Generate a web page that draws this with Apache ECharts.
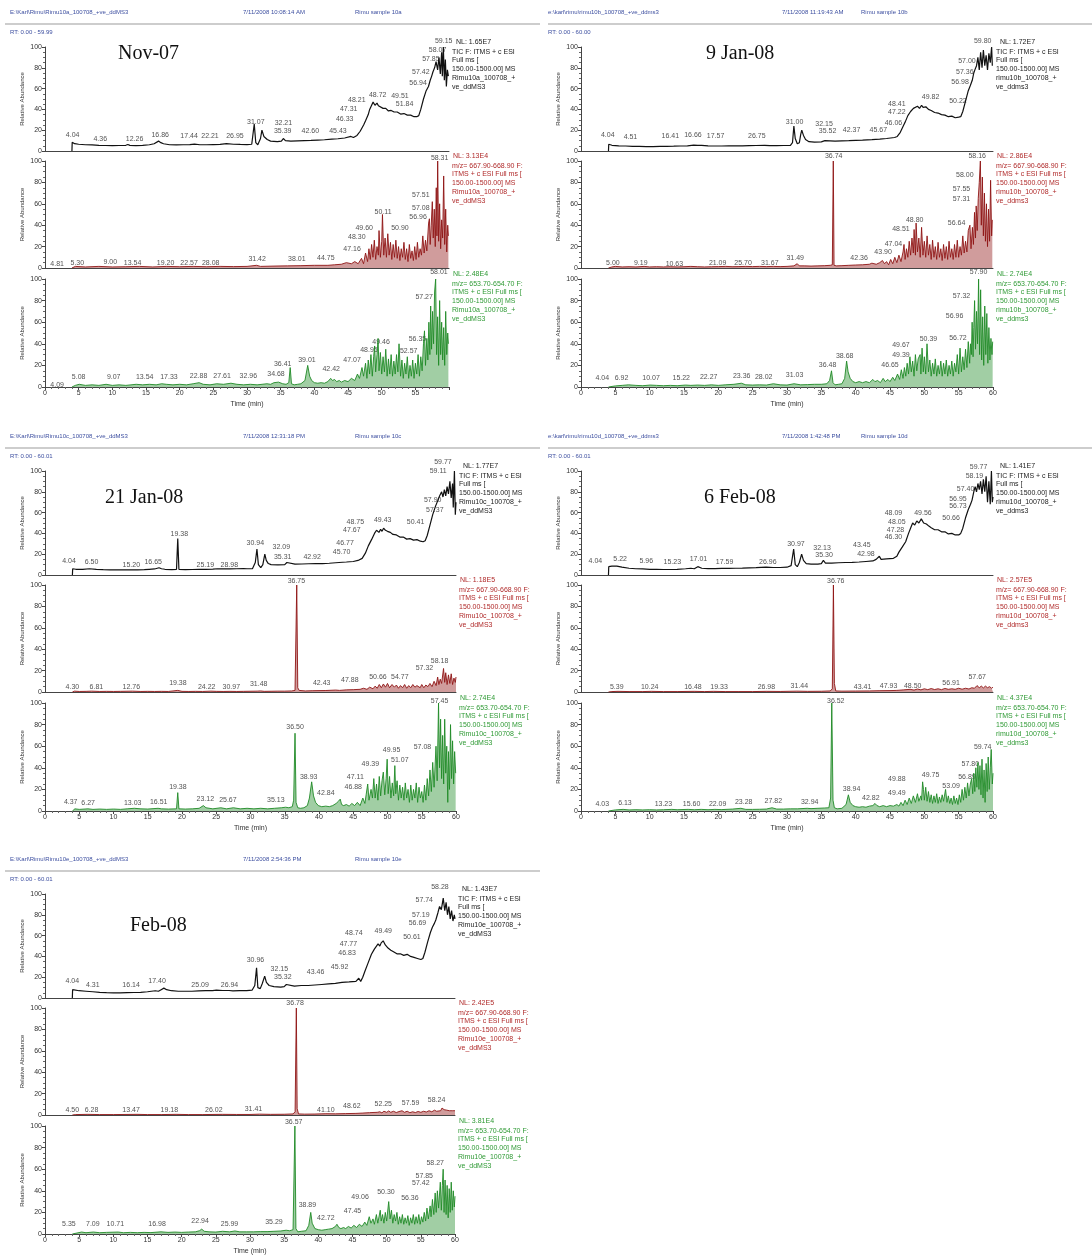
<!DOCTYPE html>
<html><head><meta charset="utf-8">
<script src="https://cdn.jsdelivr.net/npm/echarts@6/dist/echarts.min.js"></script>
<style>html,body{margin:0;padding:0;background:#fff}#c{width:1092px;height:1258px}</style>
</head><body><div id="c"></div>
<script>
// ---------- DATA: traces [time(min), relative abundance] ----------
const nov07Tic=[[4.0,0],[4.04,8.5],[4.4,7],[5,6.5],[6,6],[7,5.8],[8,5.5],[9,5.3],[10,5.2],[11,5.3],[12,5.5],[12.3,6.2],[12.6,5.4],[13.5,5.2],[14.5,5.5],[15.5,6],[16.2,7],[16.86,9.5],[17.2,8],[17.6,7],[18.5,6],[19.5,5.8],[20.5,6],[21.5,6.2],[22.2,6.6],[23,6],[24,6],[25,6.2],[26,6.4],[26.95,7],[28,6.5],[29,6.3],[30,6.2],[30.7,6.5],[31.07,26],[31.3,8],[31.6,6],[32.0,12],[32.21,20],[32.5,14],[33,11],[33.5,9.5],[34.5,9],[35.1,9.5],[35.39,12],[35.7,10],[36.5,9.5],[37.5,9.8],[38.5,10],[39.5,10.2],[40.5,10.5],[41.5,10.8],[42.6,11.5],[43.5,11.8],[44.5,12.5],[45.43,14],[45.8,13],[46.33,15],[46.8,19],[47.31,25],[47.6,29],[48,35],[48.21,40],[48.5,44],[48.72,47],[49,44],[49.3,46],[49.51,43.5],[49.8,44],[50.2,41],[50.6,41],[51,38.5],[51.4,39],[51.84,37.5],[52.3,37.5],[52.8,35.5],[53.3,36],[53.8,34.5],[54.3,34.5],[54.8,33],[55.2,33],[55.5,34],[55.8,40],[56.2,50],[56.6,58],[56.94,62],[57.2,68],[57.42,72],[57.6,76],[57.85,80],[58.07,86],[58.3,78],[58.5,90],[58.7,74],[58.9,95],[59.0,72],[59.15,100],[59.3,68],[59.45,88],[59.6,62],[59.75,78],[59.9,72]];
const nov07Red=[[4.0,0],[4.5,1.5],[6,1],[8,1.5],[10,1],[12,1.2],[14,1.5],[16,1],[18,1.5],[20,1.2],[22,1.5],[24,1.2],[26,1.5],[28,1.3],[30,1.5],[31.42,2.5],[32,1.5],[34,1.8],[36,2],[38,2.2],[40,2.5],[42,2.5],[43,3],[44,3.5],[44.75,5],[45.5,4],[46,6],[46.5,4],[47,9],[47.3,4],[47.6,14],[47.9,6],[48.1,18],[48.3,8],[48.5,22],[48.7,10],[48.9,26],[49.1,8],[49.3,20],[49.5,12],[49.6,35],[49.8,10],[50.0,25],[50.11,50],[50.3,12],[50.5,28],[50.7,10],[50.9,32],[51.1,12],[51.3,24],[51.5,8],[51.7,22],[51.9,10],[52.1,26],[52.3,9],[52.5,20],[52.7,7],[52.9,18],[53.1,10],[53.3,24],[53.5,8],[53.7,18],[53.9,6],[54.1,22],[54.3,9],[54.5,16],[54.7,7],[54.9,20],[55.1,8],[55.3,24],[55.5,10],[55.7,18],[55.9,12],[56.1,30],[56.3,14],[56.5,26],[56.7,16],[56.96,42],[57.08,46],[57.2,22],[57.35,40],[57.51,62],[57.65,28],[57.8,55],[57.95,20],[58.1,75],[58.2,30],[58.31,100],[58.45,25],[58.6,60],[58.75,18],[58.9,45],[59.05,28],[59.2,86],[59.35,22],[59.5,55],[59.65,15],[59.8,40],[59.9,30]];
const nov07Grn=[[4.0,0],[4.5,1.5],[5.08,2.5],[6,1.5],[7,2],[8,1.5],[9.07,2.5],[10,1.5],[11,2],[12,1.5],[13.54,2.5],[14.5,2],[15.5,2.5],[16.5,2],[17.33,3],[18,2.5],[19,2],[20,2.5],[21,2],[22,3],[22.88,4],[23.5,2.5],[24.5,2],[25.5,3],[26.5,2.5],[27.61,3.5],[28.5,2.5],[29.5,2],[30.5,2.5],[31.5,2],[32.96,3],[33.5,2.5],[34,4],[34.68,4.5],[35.3,3],[35.8,2.5],[36.2,4],[36.41,18],[36.6,3],[37,2],[37.5,2.5],[38,3],[38.6,6],[39.01,20],[39.3,10],[39.6,6],[40,4],[40.5,3.5],[41,4],[41.5,3.5],[42,5],[42.42,8],[42.7,6],[43,7],[43.3,5],[43.7,6],[44,4.5],[44.5,6],[45,5],[45.5,8],[46,6],[46.4,12],[46.7,8],[47.07,18],[47.3,10],[47.6,22],[47.8,8],[48.0,25],[48.2,12],[48.4,30],[48.6,10],[48.8,28],[48.95,38],[49.1,14],[49.3,30],[49.46,45],[49.6,15],[49.8,32],[50.0,12],[50.2,28],[50.4,14],[50.6,35],[50.8,10],[51.0,26],[51.2,12],[51.4,30],[51.6,10],[51.8,24],[52.0,12],[52.2,30],[52.4,14],[52.57,40],[52.8,10],[53.0,25],[53.2,8],[53.4,22],[53.6,12],[53.8,28],[54.0,8],[54.2,20],[54.4,10],[54.6,25],[54.8,8],[55.0,22],[55.2,12],[55.4,30],[55.6,10],[55.8,28],[56.0,15],[56.2,40],[56.35,52],[56.5,20],[56.7,45],[56.85,25],[57.0,60],[57.15,30],[57.27,75],[57.4,35],[57.55,70],[57.7,40],[57.85,88],[58.01,100],[58.15,30],[58.3,65],[58.45,20],[58.6,80],[58.75,30],[58.9,60],[59.05,25],[59.2,55],[59.35,20],[59.5,70],[59.65,30],[59.8,50],[59.9,40]];

const jan09Tic=[[4.0,0],[4.04,6.5],[4.51,5.5],[5.5,5],[6.5,4.8],[7.5,4.5],[8.5,4.5],[9.5,4.3],[10.5,4.3],[11.5,4.5],[12.5,4.5],[13.5,4.6],[14.5,4.8],[15.5,5],[16.41,5.6],[16.66,6.5],[17,5.5],[17.57,5.5],[18.5,5],[19.5,4.8],[20.5,4.8],[21.5,5],[22.5,5],[23.5,5],[24.5,5.2],[25.5,5.3],[26.75,5.5],[27.5,5.2],[28.5,5.2],[29.5,5.3],[30.5,5.5],[30.8,8],[31.0,24],[31.2,12],[31.5,7],[31.8,8],[32.0,16],[32.15,20],[32.4,15],[32.7,11],[33.2,9],[34,8.5],[35,8.8],[35.52,10],[35.8,9],[37,9.5],[38,9.8],[39,10],[40,10.3],[41,10.5],[42.37,11],[43.5,11.5],[44.5,12],[45.67,13],[46.06,14],[46.5,18],[47,25],[47.22,28],[47.6,34],[48,38],[48.41,41],[48.7,40],[49,43],[49.3,41],[49.6,44],[49.82,42],[50.22,42.5],[50.6,40],[51,39],[51.5,37],[52,36.5],[52.5,35],[53,34.5],[53.5,33],[54,33.5],[54.5,32],[55,32.5],[55.3,33],[55.6,38],[56,48],[56.4,58],[56.7,63],[56.98,68],[57.2,75],[57.36,78],[57.6,82],[57.8,90],[58.0,78],[58.2,95],[58.4,80],[58.6,97],[58.8,82],[59.0,92],[59.2,78],[59.4,94],[59.6,85],[59.8,100],[59.9,82]];
const jan09Red=[[4.0,0],[4.5,1],[5,1.5],[6,1],[7,1.2],[8,1],[9.19,1.5],[10,1],[11,1.2],[12,1],[13,1.2],[14,1],[15,1.2],[16,1.5],[17,1.2],[18,1],[19,1.2],[20,1.3],[21.09,1.5],[22,1.2],[23,1.3],[24,1.5],[25,1.3],[26,1.5],[27,1.3],[28,1.5],[29,1.3],[30,1.5],[31,2],[31.49,4],[31.8,2],[32.5,2],[33.5,1.8],[34.5,2],[35.5,2.2],[36.3,2.5],[36.6,3],[36.74,100],[36.85,2.5],[37.2,2],[38,2.2],[39,2.5],[40,2.8],[41,3],[42,3.5],[42.36,4.5],[43,3.5],[43.5,5],[43.9,7],[44.2,4],[44.5,6],[44.8,3],[45.1,8],[45.4,4],[45.7,10],[46.0,5],[46.3,12],[46.6,6],[46.9,15],[47.04,22],[47.2,8],[47.4,18],[47.6,10],[47.8,25],[48.0,12],[48.2,28],[48.4,14],[48.51,36],[48.7,12],[48.8,42],[49.0,15],[49.2,28],[49.4,10],[49.6,38],[49.8,12],[50.0,25],[50.2,10],[50.4,30],[50.6,12],[50.8,22],[51.0,8],[51.2,26],[51.4,10],[51.6,20],[51.8,8],[52.0,24],[52.2,10],[52.4,18],[52.6,7],[52.8,22],[53.0,9],[53.2,20],[53.4,8],[53.6,25],[53.8,10],[54.0,18],[54.2,8],[54.4,22],[54.6,10],[54.8,26],[55.0,10],[55.2,20],[55.4,12],[55.6,30],[55.8,14],[56.0,25],[56.2,15],[56.4,35],[56.64,40],[56.8,18],[57.0,38],[57.15,22],[57.31,52],[57.45,28],[57.55,58],[57.7,35],[57.85,65],[58.0,80],[58.16,100],[58.3,40],[58.45,85],[58.6,30],[58.75,70],[58.9,25],[59.05,60],[59.2,20],[59.35,55],[59.5,25],[59.65,82],[59.8,30],[59.9,45]];
const jan09Grn=[[4.0,0],[4.04,1.5],[5,1],[6,1.5],[6.92,2],[8,1.5],[9,1.2],[10.07,1.8],[11,1.5],[12,1.2],[13,1.5],[14,1.2],[15.22,1.8],[16,1.5],[17,1.8],[18,1.5],[19,2],[20,1.5],[21,2],[22.27,2.5],[23.36,3.5],[24,2],[25,1.8],[26,2],[27,1.8],[28.02,3],[29,2],[30,1.8],[31.03,3],[32,2],[33,2.2],[34,2.5],[35,2.5],[35.8,3],[36.2,6],[36.48,15],[36.7,4],[37,2],[37.5,2.5],[38,3],[38.4,8],[38.68,24],[38.9,14],[39.2,8],[39.6,5],[40,4],[40.5,5],[41,4],[41.5,5],[42,4],[42.5,7],[42.8,5],[43.2,6],[43.6,4],[44,8],[44.3,5],[44.7,7],[45,5],[45.4,9],[45.7,6],[46.1,12],[46.4,7],[46.65,16],[46.9,8],[47.1,18],[47.3,10],[47.5,22],[47.7,12],[47.9,28],[48.1,14],[48.3,24],[48.5,10],[48.7,30],[48.9,15],[49.1,26],[49.39,30],[49.5,12],[49.67,36],[49.85,14],[50.0,28],[50.2,12],[50.39,40],[50.6,14],[50.8,25],[51.0,10],[51.2,22],[51.4,12],[51.6,26],[51.8,10],[52.0,20],[52.2,12],[52.4,24],[52.6,10],[52.8,22],[53.0,12],[53.2,25],[53.4,10],[53.6,20],[53.8,12],[54.0,24],[54.2,10],[54.4,22],[54.6,14],[54.8,30],[55.0,12],[55.2,36],[55.4,14],[55.6,28],[55.8,16],[56.0,35],[56.2,18],[56.4,42],[56.6,22],[56.72,40],[56.85,30],[56.96,60],[57.1,28],[57.2,55],[57.32,80],[57.45,35],[57.6,70],[57.75,40],[57.9,100],[58.05,30],[58.2,90],[58.35,25],[58.5,65],[58.65,20],[58.8,75],[58.95,30],[59.1,68],[59.25,22],[59.4,55],[59.55,25],[59.7,45],[59.85,30],[59.95,42]];

const jan21Tic=[[4.0,0],[4.04,6],[4.5,5.5],[5.5,5.5],[6.5,6],[7.5,5.5],[8.5,5.2],[9.5,5],[10.5,5],[11.5,5],[12.5,5],[13.5,5],[14.5,5.2],[15.2,5.5],[16,5.8],[16.65,7],[17,6],[17.5,5.5],[18.5,5.2],[19.2,5.5],[19.38,35],[19.55,5.5],[20.5,5.2],[21.5,5.3],[22.5,5.4],[23.5,5.5],[24.5,5.6],[25.19,6],[26,5.8],[27,5.8],[28,6],[28.98,6.2],[29.5,6],[30.3,6.2],[30.7,12],[30.94,25],[31.15,10],[31.5,7],[31.8,10],[32.09,20],[32.3,14],[32.6,11],[33,10],[34,9.8],[35,10],[35.31,12],[35.6,10.5],[36.5,10.5],[37.5,10.6],[38.5,10.8],[39.5,11],[40.5,11],[41.5,11.3],[42.92,12],[44,12.5],[45,13],[45.7,14],[46.3,16],[46.77,21],[47.2,28],[47.67,34],[48.1,40],[48.4,43],[48.75,41],[49.0,44],[49.2,42],[49.43,45],[49.7,43],[50.0,42],[50.41,41],[50.8,39],[51.3,38.5],[51.8,36.5],[52.3,36.5],[52.8,34.5],[53.3,35],[53.8,33.5],[54.3,34],[54.8,32.5],[55.2,32],[55.5,33],[55.8,38],[56.2,48],[56.6,58],[57.0,66],[57.37,72],[57.6,76],[57.9,80],[58.1,75],[58.3,82],[58.5,76],[58.7,85],[58.9,78],[59.11,90],[59.3,74],[59.5,88],[59.6,65],[59.77,100],[59.9,58],[60.0,70]];
const jan21Red=[[4.0,0],[4.3,0.8],[5,0.5],[6,0.6],[6.81,0.8],[8,0.5],[9,0.6],[10,0.5],[11,0.6],[12.76,0.8],[14,0.5],[15,0.6],[16,0.5],[17,0.6],[18,0.5],[19.38,1.5],[20,0.6],[21,0.5],[22,0.6],[23,0.5],[24.22,0.8],[25,0.6],[26,0.5],[27,0.6],[28,0.5],[29,0.6],[30.97,0.8],[31.46,1],[32,0.6],[33,0.7],[34,0.8],[35,0.8],[36,1],[36.5,1.5],[36.75,100],[36.9,4],[37.1,1.5],[38,1],[39,1.2],[40,1.3],[41,1.4],[42.43,1.8],[43,1.5],[44,2],[45,2.2],[46,2.5],[46.5,3.5],[47,2.5],[47.4,4.5],[47.88,3],[48.2,5.5],[48.5,3.5],[48.8,7],[49.1,4],[49.4,7.5],[49.7,4.5],[50,8],[50.3,4],[50.66,7],[51,4.5],[51.3,6.5],[51.6,3.5],[51.9,6],[52.2,4],[52.5,7],[52.8,3.5],[53.1,6],[53.4,4],[53.7,7],[54,4.5],[54.3,6],[54.77,4],[55,7],[55.3,4],[55.6,6.5],[55.9,5],[56.2,8],[56.5,5],[56.8,10],[57.1,6],[57.32,14],[57.5,7],[57.7,12],[57.9,8],[58.18,22],[58.35,9],[58.5,18],[58.7,7],[58.9,16],[59.1,8],[59.3,17],[59.5,7],[59.7,13],[59.9,9],[60,14]];
const jan21Grn=[[4.0,0],[4.37,2],[5,1.5],[6.27,2],[7,1.5],[8,1.8],[9,1.5],[10,1.8],[11,1.5],[12,2],[13.03,2.5],[14,2],[15,1.8],[16.51,2.5],[17,2],[18,1.8],[19.2,2],[19.38,17],[19.55,2],[20.5,1.8],[21.5,2],[22.5,2.5],[23.12,5],[23.5,3],[24.5,2],[25.67,3],[26.5,2],[27.5,3],[28.5,2],[29.5,2.5],[30.5,2],[31.5,2.5],[32.5,2],[33.5,2.5],[34.5,3],[35.13,3.5],[35.6,3],[36.1,4],[36.3,10],[36.5,72],[36.65,8],[36.9,3],[37.3,2.5],[37.8,3],[38.3,5],[38.6,12],[38.93,27],[39.2,14],[39.5,8],[39.9,5],[40.4,4],[41,4.5],[41.5,4],[42,5],[42.5,7],[42.84,9],[43.1,11],[43.3,6],[43.6,5],[44,6],[44.4,4.5],[44.8,7],[45.2,5],[45.6,8],[46,5],[46.4,12],[46.7,7],[46.88,15],[47.11,25],[47.3,10],[47.6,20],[47.8,12],[48.0,30],[48.2,12],[48.4,25],[48.6,10],[48.8,32],[49.0,14],[49.2,28],[49.39,36],[49.6,15],[49.8,30],[49.95,48],[50.1,16],[50.3,32],[50.5,12],[50.7,26],[50.9,14],[51.07,42],[51.2,16],[51.4,28],[51.6,10],[51.8,24],[52.0,12],[52.2,22],[52.4,10],[52.6,26],[52.8,12],[53.0,20],[53.2,8],[53.4,24],[53.6,10],[53.8,20],[54.0,12],[54.2,26],[54.4,8],[54.6,22],[54.8,12],[55.0,18],[55.2,8],[55.4,24],[55.6,10],[55.8,30],[56.0,14],[56.2,38],[56.4,18],[56.6,45],[56.8,22],[57.08,60],[57.25,28],[57.45,100],[57.6,40],[57.75,85],[57.9,30],[58.05,70],[58.2,25],[58.35,85],[58.5,35],[58.65,60],[58.8,8],[58.9,55],[59.05,20],[59.2,80],[59.35,30],[59.5,65],[59.65,25],[59.8,55],[59.95,35]];

const feb06Tic=[[4.0,0],[4.04,8],[4.5,8.5],[5.22,8.5],[5.96,7.5],[7,6.5],[8,6],[9,5.8],[10,5.5],[11,5.4],[12,5.3],[13,5.3],[14,5.5],[15.23,6],[16,6.5],[16.5,6],[17.01,8],[17.3,6.5],[17.59,6.5],[18.5,6.2],[19.5,6.2],[20.5,6.3],[21.5,6.4],[22.5,6.5],[23.5,6.6],[24.5,6.8],[25.5,7],[26.96,7.5],[28,7.2],[29,7.2],[30,7.5],[30.6,9],[30.97,25],[31.2,10],[31.5,8],[31.8,12],[32.13,20],[32.4,14],[32.8,11],[33.5,10.5],[34.5,10.5],[35.0,11],[35.3,14],[35.6,11.5],[36.5,11.5],[37.5,11.8],[38.5,12],[39.5,12.2],[40.5,12.5],[41.5,13],[42.5,13.5],[42.98,15],[43.45,18],[43.7,15],[44.5,15.5],[45.5,16],[46,18],[46.3,22],[46.8,27],[47.28,32],[47.7,40],[48.05,46],[48.3,50],[48.6,48],[48.9,52],[49.2,50],[49.56,54],[49.9,50],[50.3,49],[50.66,47],[51,45.5],[51.5,43.5],[52,43.5],[52.5,41.5],[53,41.5],[53.5,39.5],[54,40],[54.5,38.5],[55,38.5],[55.3,40],[55.6,45],[56,55],[56.4,63],[56.73,68],[56.95,72],[57.2,80],[57.4,85],[57.6,80],[57.8,88],[58.0,82],[58.19,90],[58.4,78],[58.6,92],[58.8,80],[59.0,95],[59.2,70],[59.4,90],[59.6,68],[59.77,100],[59.9,70],[60.0,75]];
const feb06Red=[[4.0,0],[4.5,0.4],[5.39,0.6],[7,0.4],[9,0.4],[10.24,0.6],[12,0.4],[14,0.4],[16.48,0.6],[18,0.4],[19.33,0.6],[21,0.4],[23,0.4],[25,0.4],[26.96,0.6],[29,0.5],[31.44,0.8],[33,0.6],[35,0.7],[36.3,1],[36.6,3],[36.76,100],[36.9,8],[37.1,1],[38,0.8],[40,0.9],[42,1],[43.41,1.2],[45,1.3],[46,1.5],[47,2],[47.93,2.5],[48.5,1.8],[49,2.8],[49.5,2],[50,3],[50.5,2.2],[51,3.2],[51.5,2.3],[52,3],[52.5,2.2],[53,3.3],[53.5,2.5],[54,3],[54.5,2.5],[55,3.5],[55.5,2.6],[56,3.5],[56.5,2.8],[56.91,4],[57.3,3.5],[57.67,6],[58,4],[58.3,5.5],[58.6,3.8],[58.9,5.5],[59.2,4],[59.5,5],[59.8,3.5],[60,4.5]];
const feb06Grn=[[4.0,0],[4.03,1.2],[5,1],[6.13,1.5],[7,1],[8,1.2],[9,1],[10,1.2],[11,1],[12,1.2],[13.23,1.5],[14,1.2],[15.6,1.5],[16.5,1.2],[17.5,1.5],[18.5,1.2],[19.5,1.5],[20.5,1.3],[22.09,1.8],[23.28,2.5],[24,1.5],[25,1.5],[26,1.6],[27,1.8],[27.82,3],[28.5,1.8],[29.5,1.8],[30.5,2],[31.5,2],[32.94,2.5],[33.5,2.2],[34.5,2.5],[35.5,2.8],[36.1,3],[36.35,12],[36.52,100],[36.7,10],[36.9,3],[37.3,2],[38,2.5],[38.6,6],[38.94,15],[39.2,8],[39.6,5],[40,4],[40.5,3.5],[41,4],[41.5,3.5],[42,4.5],[42.5,5],[42.82,7],[43.1,5],[43.5,4],[44,5],[44.5,4],[45,5],[45.5,4.5],[46,6],[46.3,4.5],[46.6,8],[46.9,5],[47.2,10],[47.5,6],[47.8,12],[48.1,7],[48.4,14],[48.7,8],[49.0,16],[49.2,9],[49.49,14],[49.6,10],[49.75,27],[49.88,20],[50.0,10],[50.2,22],[50.4,9],[50.6,18],[50.8,8],[51.0,15],[51.2,7],[51.4,14],[51.6,8],[51.8,16],[52.0,7],[52.2,13],[52.4,8],[52.6,15],[52.8,9],[53.09,20],[53.3,8],[53.5,14],[53.7,7],[53.9,12],[54.1,6],[54.3,14],[54.5,7],[54.7,12],[54.9,6],[55.1,15],[55.3,8],[55.5,20],[55.7,10],[55.9,22],[56.1,12],[56.3,26],[56.5,14],[56.7,25],[56.89,30],[57.05,16],[57.2,35],[57.35,18],[57.5,40],[57.65,22],[57.8,45],[57.95,20],[58.1,42],[58.25,15],[58.4,48],[58.55,12],[58.7,38],[58.85,8],[59.0,44],[59.15,18],[59.3,50],[59.45,20],[59.6,40],[59.74,57],[59.9,25],[60.0,35]];

const feb08Tic=[[4.0,0],[4.04,8],[4.31,7.5],[5,7],[6,6.5],[7,6],[8,5.5],[9,5.2],[10,5],[11,5],[12,5.2],[13,5.3],[14,5.5],[15,6],[16.14,7],[16.6,6.5],[17.0,8],[17.4,9.5],[17.8,8],[18.5,7],[19.5,6.5],[20.5,6.5],[21.5,6.5],[22.5,6.8],[23.5,7],[24.5,7],[25.09,7.5],[26,7.2],[26.94,7.2],[27.5,6.8],[28.5,7],[29.5,7],[30.3,7.5],[30.7,12],[30.96,29],[31.15,10],[31.5,9],[31.8,14],[32.15,21],[32.4,15],[32.8,12],[33.5,11],[34.5,10.5],[35.0,11],[35.32,13],[35.6,11.5],[36.5,11.5],[37.5,12],[38.5,12],[39.5,12.5],[40.5,13],[41.5,13.5],[42.5,14],[43.46,15],[44.5,15.5],[45.5,16],[45.92,19],[46.2,16],[46.5,20],[46.83,26],[47.3,34],[47.77,42],[48.2,47],[48.74,52],[49.0,50],[49.2,53],[49.49,55],[49.8,51],[50.2,48],[50.61,46],[51,44.5],[51.5,42.5],[52,42.5],[52.5,41],[53,42],[53.5,40],[54,39],[54.5,38],[55,37],[55.3,38],[55.6,44],[56,54],[56.4,63],[56.69,68],[57.0,72],[57.19,75],[57.5,82],[57.74,88],[58.0,85],[58.28,96],[58.5,84],[58.7,92],[58.9,80],[59.1,88],[59.3,76],[59.5,84],[59.7,74],[59.9,80],[60.0,76]];
const feb08Red=[[4.0,0],[4.5,0.4],[6.28,0.6],[8,0.4],[10,0.4],[13.47,0.6],[15,0.4],[17,0.4],[19.18,0.6],[21,0.4],[23,0.4],[26.02,0.6],[28,0.5],[30,0.5],[31.41,0.8],[33,0.6],[35,0.7],[36.3,1],[36.6,3],[36.78,100],[36.9,6],[37.1,1],[38,0.8],[39.5,0.9],[41.1,1.2],[42.5,1.1],[44,1.3],[45.5,1.5],[46.5,1.8],[47.5,2.2],[48.62,2.5],[49,3],[49.3,2],[49.6,3.5],[50,2.5],[50.3,3.8],[50.6,2.5],[51,3.5],[51.4,2.3],[51.8,3.2],[52.25,4],[52.6,2.5],[53,3.5],[53.4,2.2],[53.8,3],[54.2,2.3],[54.6,3.3],[55,2.5],[55.4,3.5],[55.8,2.8],[56.2,4],[56.6,3],[57,4.5],[57.3,3.5],[57.59,5],[57.9,4],[58.1,6.5],[58.24,8],[58.4,5],[58.6,6.5],[58.8,4.5],[59,6],[59.2,4],[59.4,5.5],[59.6,4],[59.8,5],[60,4]];
const feb08Grn=[[4.0,0],[4.2,1.2],[5.35,1.8],[6,1.2],[7.09,1.8],[8,1.2],[9,1.5],[10.71,1.8],[11.5,1.2],[12.5,1.5],[13.5,1.2],[14.5,1.5],[15.5,1.3],[16.98,2],[18,1.5],[19,1.8],[20,1.5],[21,1.8],[22,2],[22.6,3],[22.94,4.5],[23.3,2.5],[24,2],[25,1.8],[25.99,2.5],[27,2],[27.8,2.8],[28.5,2],[29.5,2],[30.5,2],[31.5,2.2],[32.5,2.2],[33.5,2.5],[34.5,2.8],[35.29,3.5],[35.8,3],[36.3,4],[36.57,100],[36.72,5],[37,2],[37.5,2.5],[38.2,3],[38.6,8],[38.89,20],[39.1,10],[39.5,5],[40,4],[40.5,3.5],[41,4],[41.5,4.5],[42,5],[42.5,7],[42.72,9],[43,6],[43.3,5],[43.7,6],[44,5],[44.4,7],[44.8,5.5],[45.2,8],[45.6,6],[46,9],[46.4,7],[46.8,11],[47.1,8],[47.45,16],[47.7,10],[48.0,14],[48.2,9],[48.5,18],[48.7,10],[49.06,22],[49.2,12],[49.4,18],[49.6,10],[49.8,20],[50.0,12],[50.30,30],[50.5,14],[50.7,22],[50.9,10],[51.1,18],[51.3,12],[51.5,20],[51.7,9],[51.9,16],[52.1,10],[52.3,18],[52.5,9],[52.7,15],[52.9,10],[53.1,17],[53.3,8],[53.5,15],[53.7,10],[53.9,18],[54.1,9],[54.3,16],[54.5,10],[54.7,18],[54.9,9],[55.1,16],[55.3,11],[55.5,20],[55.7,12],[55.9,24],[56.1,14],[56.36,26],[56.5,16],[56.7,32],[56.9,18],[57.1,38],[57.25,20],[57.42,40],[57.6,24],[57.85,48],[58.0,22],[58.15,45],[58.27,60],[58.4,20],[58.55,50],[58.7,18],[58.85,45],[59.0,15],[59.15,42],[59.3,20],[59.45,48],[59.6,22],[59.75,40],[59.9,25],[60.0,35]];

// ---------- peak labels: [time, abundance, text] ----------
const nov07TicPk=[[4.1,15,"4.04"],[8.2,11,"4.36"],[13.3,11,"12.26"],[17.1,15,"16.86"],[21.4,14,"17.44"],[24.5,14,"22.21"],[28.2,14,"26.95"],[31.3,28,"31.07"],[35.4,27,"32.21"],[35.3,19,"35.39"],[39.4,19,"42.60"],[43.5,19,"45.43"],[44.5,31,"46.33"],[45.1,40,"47.31"],[46.3,49,"48.21"],[49.4,54,"48.72"],[52.7,53,"49.51"],[53.4,45,"51.84"],[55.4,65,"56.94"],[55.8,76,"57.42"],[57.3,88,"57.85"],[58.3,97,"58.07"],[59.2,106,"59.15"]];
const nov07RedPk=[[1.8,4,"4.81"],[4.8,5,"5.30"],[9.7,6,"9.00"],[13.0,5,"13.54"],[17.9,5,"19.20"],[21.4,5,"22.57"],[24.6,5,"28.08"],[31.5,8,"31.42"],[37.4,8,"38.01"],[41.7,9,"44.75"],[45.6,18,"47.16"],[46.3,29,"48.30"],[47.4,37,"49.60"],[50.2,52,"50.11"],[52.7,37,"50.90"],[55.4,48,"56.96"],[55.8,56,"57.08"],[55.8,68,"57.51"],[58.6,103,"58.31"]];
const nov07GrnPk=[[1.8,2,"4.09"],[5.0,9,"5.08"],[10.2,9,"9.07"],[14.8,9,"13.54"],[18.4,9,"17.33"],[22.8,10,"22.88"],[26.3,10,"27.61"],[30.2,10,"32.96"],[34.3,12,"34.68"],[35.3,21,"36.41"],[38.9,25,"39.01"],[42.5,17,"42.42"],[45.6,25,"47.07"],[48.1,34,"48.95"],[49.9,42,"49.46"],[54.0,33,"52.57"],[55.3,44,"56.35"],[56.3,83,"57.27"],[58.5,106,"58.01"]];
const jan09TicPk=[[3.9,15,"4.04"],[7.2,13,"4.51"],[13.0,14,"16.41"],[16.3,15,"16.66"],[19.6,14,"17.57"],[25.6,14,"26.75"],[31.1,28,"31.00"],[35.4,26,"32.15"],[35.9,19,"35.52"],[39.4,20,"42.37"],[43.3,20,"45.67"],[45.5,27,"46.06"],[46.0,37,"47.22"],[46.0,45,"48.41"],[50.9,52,"49.82"],[54.9,48,"50.22"],[55.2,66,"56.98"],[55.9,76,"57.36"],[56.2,86,"57.00"],[58.5,106,"59.80"]];
const jan09RedPk=[[4.65,5,"5.00"],[8.7,5,"9.19"],[13.6,4,"10.63"],[19.9,5,"21.09"],[23.6,5,"25.70"],[27.5,5,"31.67"],[31.2,9,"31.49"],[36.8,105,"36.74"],[40.5,9,"42.36"],[44.0,15,"43.90"],[45.5,22,"47.04"],[46.6,36,"48.51"],[48.6,45,"48.80"],[54.7,42,"56.64"],[55.4,64,"57.31"],[55.4,74,"57.55"],[55.9,87,"58.00"],[57.7,105,"58.16"]];
const jan09GrnPk=[[3.1,8,"4.04"],[5.9,8,"6.92"],[10.2,8,"10.07"],[14.6,8,"15.22"],[18.6,9,"22.27"],[23.4,10,"23.36"],[26.6,9,"28.02"],[31.1,11,"31.03"],[35.9,20,"36.48"],[38.4,29,"38.68"],[45.0,20,"46.65"],[46.6,30,"49.39"],[46.6,39,"49.67"],[50.6,44,"50.39"],[54.9,45,"56.72"],[54.4,66,"56.96"],[55.4,84,"57.32"],[57.9,106,"57.90"]];
const jan21TicPk=[[3.5,13,"4.04"],[6.8,12,"6.50"],[12.6,10,"15.20"],[15.8,12,"16.65"],[19.6,39,"19.38"],[23.4,10,"25.19"],[26.9,10,"28.98"],[30.7,31,"30.94"],[34.5,27,"32.09"],[34.7,17,"35.31"],[39.0,17,"42.92"],[43.3,22,"45.70"],[43.8,31,"46.77"],[44.8,43,"47.67"],[45.3,51,"48.75"],[49.3,53,"49.43"],[54.1,51,"50.41"],[56.9,62,"57.37"],[56.6,72,"57.90"],[57.4,100,"59.11"],[58.1,109,"59.77"]];
const jan21RedPk=[[4.0,5,"4.30"],[7.5,5,"6.81"],[12.6,5,"12.76"],[19.4,8,"19.38"],[23.6,5,"24.22"],[27.2,5,"30.97"],[31.2,7,"31.48"],[36.7,104,"36.75"],[40.4,8,"42.43"],[44.5,11,"47.88"],[48.6,14,"50.66"],[51.8,14,"54.77"],[55.4,22,"57.32"],[57.6,29,"58.18"]];
const jan21GrnPk=[[3.75,8,"4.37"],[6.3,7,"6.27"],[12.8,7,"13.03"],[16.6,8,"16.51"],[19.4,22,"19.38"],[23.4,11,"23.12"],[26.7,10,"25.67"],[33.7,10,"35.13"],[36.5,78,"36.50"],[38.5,31,"38.93"],[41.0,17,"42.84"],[45.0,22,"46.88"],[45.3,31,"47.11"],[47.5,43,"49.39"],[50.6,56,"49.95"],[51.8,47,"51.07"],[55.1,59,"57.08"],[57.6,102,"57.45"]];
const feb06TicPk=[[2.1,13,"4.04"],[5.7,15,"5.22"],[9.5,13,"5.96"],[13.3,12,"15.23"],[17.1,15,"17.01"],[20.9,12,"17.59"],[27.2,12,"26.96"],[31.3,30,"30.97"],[35.1,26,"32.13"],[35.4,19,"35.30"],[40.9,29,"43.45"],[41.5,20,"42.98"],[45.5,36,"46.30"],[45.8,43,"47.28"],[46.0,51,"48.05"],[45.5,60,"48.09"],[49.8,60,"49.56"],[53.9,55,"50.66"],[54.9,66,"56.73"],[54.9,73,"56.95"],[56.0,83,"57.40"],[57.3,95,"58.19"],[57.9,104,"59.77"]];
const feb06RedPk=[[5.2,5,"5.39"],[10.0,5,"10.24"],[16.3,5,"16.48"],[20.1,5,"19.33"],[27.0,5,"26.98"],[31.8,6,"31.44"],[37.1,104,"36.76"],[41.0,5,"43.41"],[44.8,6,"47.93"],[48.3,6,"48.50"],[53.9,8,"56.91"],[57.7,14,"57.67"]];
const feb06GrnPk=[[3.1,6,"4.03"],[6.4,7,"6.13"],[12.0,6,"13.23"],[16.1,6,"15.60"],[19.9,6,"22.09"],[23.7,8,"23.28"],[28.0,9,"27.82"],[33.3,8,"32.94"],[37.1,102,"36.52"],[39.4,20,"38.94"],[42.2,12,"42.82"],[46.0,17,"49.49"],[46.0,30,"49.88"],[50.9,33,"49.75"],[53.9,23,"53.09"],[56.2,31,"56.89"],[56.7,43,"57.80"],[58.5,59,"59.74"]];
const feb08TicPk=[[4.0,16,"4.04"],[7.0,12,"4.31"],[12.6,12,"16.14"],[16.4,16,"17.40"],[22.7,12,"25.09"],[27.0,12,"26.94"],[30.8,36,"30.96"],[34.3,28,"32.15"],[34.8,20,"35.32"],[39.6,25,"43.46"],[43.1,30,"45.92"],[44.2,43,"46.83"],[44.4,52,"47.77"],[45.2,62,"48.74"],[49.5,64,"49.49"],[53.7,59,"50.61"],[54.5,72,"56.69"],[55.0,80,"57.19"],[55.5,94,"57.74"],[57.8,107,"58.28"]];
const feb08RedPk=[[4.0,5,"4.50"],[6.8,5,"6.28"],[12.6,5,"13.47"],[18.2,5,"19.18"],[24.7,5,"26.02"],[30.5,6,"31.41"],[36.6,105,"36.78"],[41.1,5,"41.10"],[44.9,8,"48.62"],[49.5,10,"52.25"],[53.5,11,"57.59"],[57.3,14,"58.24"]];
const feb08GrnPk=[[3.5,9,"5.35"],[7.0,9,"7.09"],[10.3,9,"10.71"],[16.4,9,"16.98"],[22.7,12,"22.94"],[27.0,9,"25.99"],[33.5,11,"35.29"],[36.4,104,"36.57"],[38.4,27,"38.89"],[41.1,15,"42.72"],[45.0,21,"47.45"],[46.1,34,"49.06"],[49.9,39,"50.30"],[53.4,33,"56.36"],[55.0,47,"57.42"],[55.5,54,"57.85"],[57.1,66,"58.27"]];

// ---------- texts ----------
const titles=["Nov-07","9 Jan-08","21 Jan-08","6 Feb-08","Feb-08"];
const filePaths=["E:\\Karl\\Rimu\\Rimu10a_100708_+ve_ddMS3","e:\\karl\\rimu\\rimu10b_100708_+ve_ddms3","E:\\Karl\\Rimu\\Rimu10c_100708_+ve_ddMS3","e:\\karl\\rimu\\rimu10d_100708_+ve_ddms3","E:\\Karl\\Rimu\\Rimu10e_100708_+ve_ddMS3"];
const runDates=["7/11/2008 10:08:14 AM","7/11/2008 11:19:43 AM","7/11/2008 12:31:18 PM","7/11/2008 1:42:48 PM","7/11/2008 2:54:36 PM"];
const sampleNames=["Rimu sample 10a","Rimu sample 10b","Rimu sample 10c","Rimu sample 10d","Rimu sample 10e"];
const rtRanges=["RT: 0.00 - 59.99","RT: 0.00 - 60.00","RT: 0.00 - 60.01","RT: 0.00 - 60.01","RT: 0.00 - 60.01"];
const rawNames=[["Rimu10a_100708_+","ve_ddMS3"],["rimu10b_100708_+","ve_ddms3"],["Rimu10c_100708_+","ve_ddMS3"],["rimu10d_100708_+","ve_ddms3"],["Rimu10e_100708_+","ve_ddMS3"]];
const nlTic=["1.65E7","1.72E7","1.77E7","1.41E7","1.43E7"];
const nlRed=["3.13E4","2.86E4","1.18E5","2.57E5","2.42E5"];
const nlGrn=["2.48E4","2.74E4","2.74E4","4.37E4","3.81E4"];
const xMaxes=[59.99,60,60,60,60];

// ---------- layout ----------
const traces=[[nov07Tic,nov07Red,nov07Grn],[jan09Tic,jan09Red,jan09Grn],[jan21Tic,jan21Red,jan21Grn],[feb06Tic,feb06Red,feb06Grn],[feb08Tic,feb08Red,feb08Grn]];
const peaks=[[nov07TicPk,nov07RedPk,nov07GrnPk],[jan09TicPk,jan09RedPk,jan09GrnPk],[jan21TicPk,jan21RedPk,jan21GrnPk],[feb06TicPk,feb06RedPk,feb06GrnPk],[feb08TicPk,feb08RedPk,feb08GrnPk]];
const origin=[[0,0],[536,0],[0,424],[536,424],[0,847]];
const plotLeft=[45,581,45,581,45];
const plotW=[404,412,411,412,410];
const rowTop=[47,161,279], rowH=[104,107,108];
const titlePos=[[118,44],[706,44],[105,488],[704,488],[130,916]];
const lineColors=['#111111','#8e1414','#1f8a26'];
const textColors=['#222222','#b02a2a','#2f9a35'];
const FONT='Liberation Sans';

const grids=[],xAxes=[],yAxes=[],series=[],gfx=[];
for(let p=0;p<5;p++){
  const [ox,oy]=origin[p];
  const L=plotLeft[p], W=plotW[p], R=L+W;
  for(let r=0;r<3;r++){
    const g=p*3+r, bottom=(r===2);
    const top=oy+rowTop[r];
    grids.push({left:L,top:top,width:W,height:rowH[r]});
    xAxes.push({gridIndex:g,type:'value',min:0,max:xMaxes[p],interval:5,
      axisLine:{show:true,onZero:false,lineStyle:{color:'#444',width:1}},
      axisTick:{show:bottom,length:3,lineStyle:{color:'#444'}},
      minorTick:{show:bottom,splitNumber:5,length:2,lineStyle:{color:'#666'}},
      splitLine:{show:false},
      axisLabel:{show:bottom,showMaxLabel:p!==0,fontSize:7,color:'#333',margin:3,fontFamily:FONT},
      name:bottom?'Time (min)':'',nameLocation:'middle',nameGap:14,
      nameTextStyle:{fontSize:7,color:'#333',fontFamily:FONT}});
    yAxes.push({gridIndex:g,type:'value',min:0,max:100,interval:20,
      axisLine:{show:true,lineStyle:{color:'#444',width:1}},
      axisTick:{show:true,length:3,lineStyle:{color:'#444'}},
      minorTick:{show:true,splitNumber:4,length:2,lineStyle:{color:'#666'}},
      splitLine:{show:false},
      axisLabel:{fontSize:7,color:'#333',margin:3,fontFamily:FONT},
      name:'Relative Abundance',nameLocation:'middle',nameGap:20,
      nameTextStyle:{fontSize:6,color:'#333',fontFamily:FONT}});
    const s={type:'line',xAxisIndex:g,yAxisIndex:g,data:traces[p][r],
      showSymbol:false,symbol:'none',silent:true,animation:false,
      lineStyle:{color:lineColors[r],width:r===0?1.2:0.9}};
    if(r>0) s.areaStyle={color:lineColors[r],opacity:0.42};
    series.push(s);
    series.push({type:'scatter',xAxisIndex:g,yAxisIndex:g,clip:false,silent:true,animation:false,
      symbolSize:1,itemStyle:{color:'rgba(0,0,0,0)'},
      data:peaks[p][r].map(d=>({value:[d[0],d[1]],name:d[2]})),
      label:{show:true,position:'inside',formatter:'{b}',fontSize:7,color:'#262626',fontFamily:FONT}});
    const nl=[nlTic,nlRed,nlGrn][r][p];
    const body = r===0 ? ['TIC F: ITMS + c ESI','Full ms [','150.00-1500.00] MS',rawNames[p][0],rawNames[p][1]]
      : [(r===1?'m/z= 667.90-668.90 F:':'m/z= 653.70-654.70 F:'),'ITMS + c ESI Full ms [','150.00-1500.00] MS',rawNames[p][0],rawNames[p][1]];
    gfx.push({type:'text',x:R+(r===0?7:4),y:top-8,silent:true,
      style:{text:'NL: '+nl,fill:textColors[r],fontSize:7,fontFamily:FONT}});
    gfx.push({type:'text',x:R+3,y:top+0.5,silent:true,
      style:{text:body.join('\n'),fill:textColors[r],fontSize:7,lineHeight:8.7,fontFamily:FONT}});
  }
  const right = (p%2===1);
  const hx = ox + (right?12:10);
  gfx.push({type:'text',x:hx,y:oy+9,silent:true,style:{text:filePaths[p],fill:'#3d4fa0',fontSize:6,fontFamily:FONT}});
  gfx.push({type:'text',x:ox+(right?246:243),y:oy+9,silent:true,style:{text:runDates[p],fill:'#3d4fa0',fontSize:6,fontFamily:FONT}});
  gfx.push({type:'text',x:ox+(right?325:355),y:oy+9,silent:true,style:{text:sampleNames[p],fill:'#3d4fa0',fontSize:6,fontFamily:FONT}});
  gfx.push({type:'line',silent:true,shape:{x1:ox+(right?12:5),y1:oy+24,x2:ox+(right?556:540),y2:oy+24},style:{stroke:'#bdbdbd',lineWidth:1.5}});
  gfx.push({type:'text',x:hx,y:oy+29,silent:true,style:{text:rtRanges[p],fill:'#3d4fa0',fontSize:6,fontFamily:FONT}});
  gfx.push({type:'text',x:titlePos[p][0],y:titlePos[p][1],silent:true,
    style:{text:titles[p],fill:'#111',fontSize:20,fontFamily:'Liberation Serif'}});
}

const chart=echarts.init(document.getElementById('c'),null,{renderer:'canvas'});
chart.setOption({animation:false,backgroundColor:'#ffffff',grid:grids,xAxis:xAxes,yAxis:yAxes,series:series,graphic:{elements:gfx}});
</script></body></html>
